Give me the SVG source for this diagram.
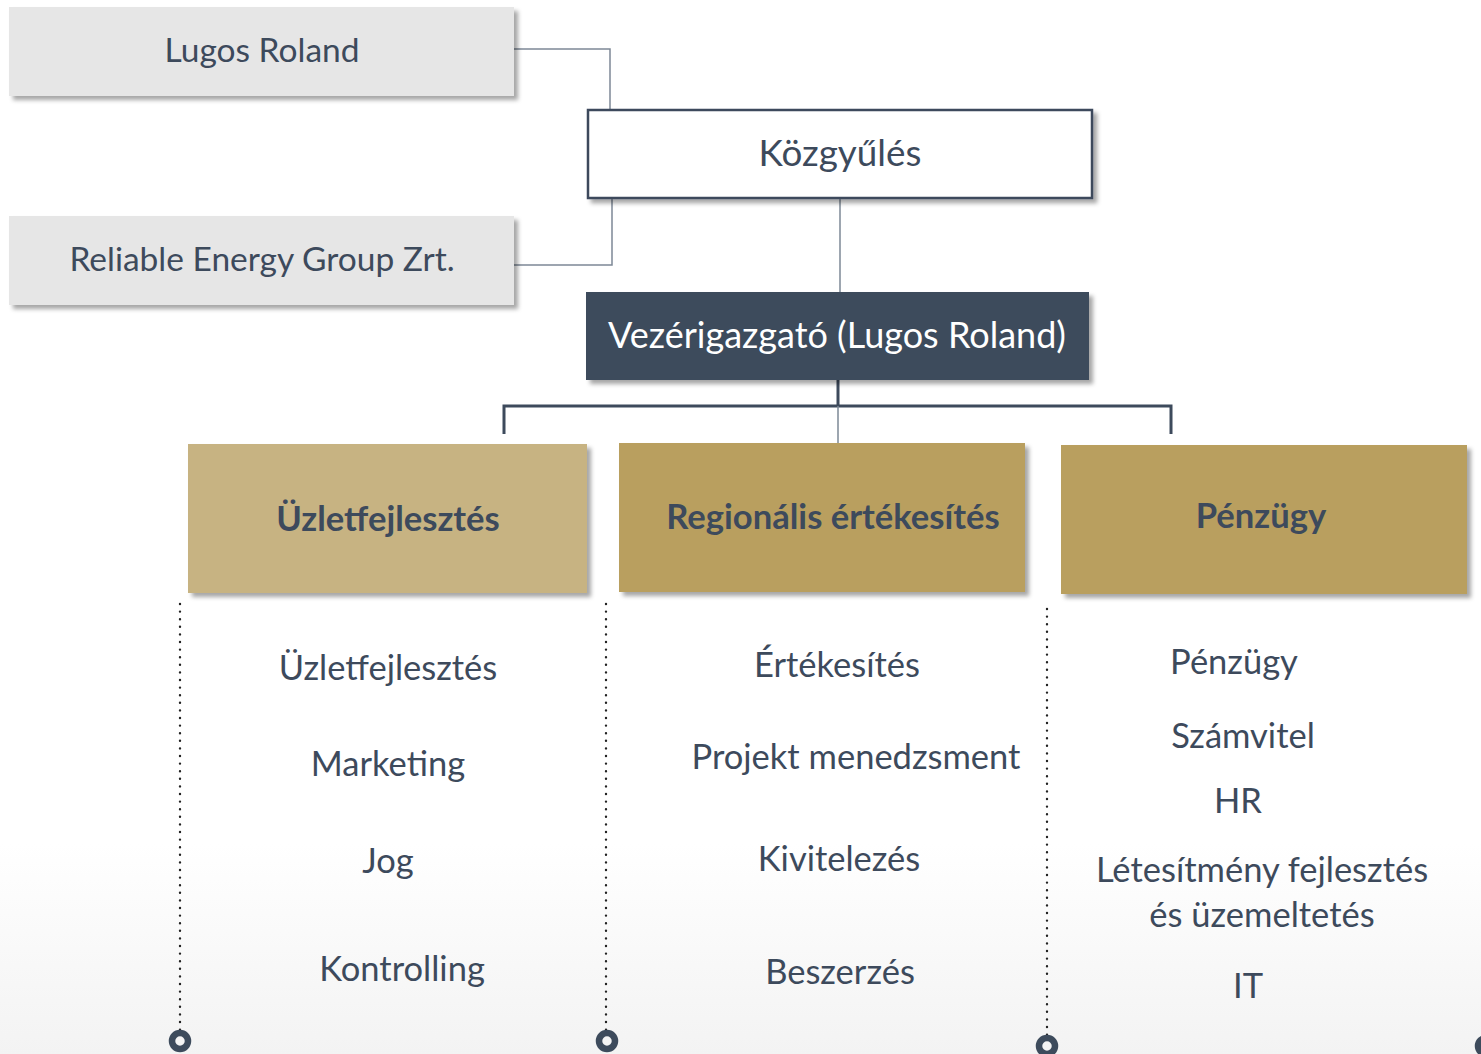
<svg xmlns="http://www.w3.org/2000/svg" width="1481" height="1054" viewBox="0 0 1481 1054">
<defs>
<linearGradient id="bg" x1="0" y1="0" x2="0" y2="1">
<stop offset="0" stop-color="#ffffff"/>
<stop offset="0.8" stop-color="#ffffff"/>
<stop offset="1" stop-color="#f3f3f3"/>
</linearGradient>
<filter id="sh" x="-5%" y="-10%" width="115%" height="130%">
<feDropShadow dx="4" dy="4" stdDeviation="2" flood-color="#000" flood-opacity="0.35"/>
</filter>
</defs>
<style>
text{font-family:"Lato","Open Sans","Liberation Sans",sans-serif;fill:#3d4a5c;text-anchor:middle}
.hdr{font-size:33.5px}
.dir{font-size:36px;fill:#ffffff}
.dept{font-size:34.6px;font-weight:bold}
.item{font-size:34.5px}
.gray{fill:#e6e6e6}
.thin{stroke:#7d8896;stroke-width:1.5;fill:none}
.thick{stroke:#3d4a5c;stroke-width:3;fill:none}
.dot{stroke:#222;stroke-width:2.4;stroke-dasharray:0 7.6;stroke-linecap:round;fill:none}
.ring{fill:none;stroke:#3d4b5c;stroke-width:6.5}
</style>
<rect width="1481" height="1054" fill="url(#bg)"/>

<g id="connectors">
<polyline class="thin" points="514,49 610,49 610,110"/>
<polyline class="thin" points="514,265 612,265 612,198"/>
<line class="thin" x1="840" y1="198" x2="840" y2="292"/>
<line class="thick" x1="838" y1="380" x2="838" y2="406"/>
<polyline class="thick" points="504,434 504,406 1171,406 1171,434"/>
<line class="thin" x1="838" y1="406" x2="838" y2="443"/>
<line class="dot" x1="180" y1="604" x2="180" y2="1030"/>
<line class="dot" x1="606" y1="604" x2="606" y2="1030"/>
<line class="dot" x1="1047" y1="609" x2="1047" y2="1035"/>
<circle class="ring" cx="180" cy="1041" r="8"/>
<circle class="ring" cx="607" cy="1041" r="8"/>
<circle class="ring" cx="1047" cy="1046" r="8"/>
<circle class="ring" cx="1486" cy="1046" r="8"/>
</g>

<g id="lugos">
<rect class="gray" x="9" y="7" width="505" height="89" filter="url(#sh)"/>
<text class="hdr" x="262" y="62">Lugos Roland</text>
</g>
<g id="reliable">
<rect class="gray" x="9" y="216" width="505" height="89" filter="url(#sh)"/>
<text class="hdr" x="262" y="271">Reliable Energy Group Zrt.</text>
</g>
<g id="kozgyules">
<rect x="588" y="110" width="504" height="88" fill="#ffffff" stroke="#3d4a5c" stroke-width="2.5" filter="url(#sh)"/>
<text class="hdr" x="840" y="166" style="font-size:36.8px">Közgyűlés</text>
</g>
<g id="vezer">
<rect x="586" y="292" width="503" height="88" fill="#3d4b5c" filter="url(#sh)"/>
<text class="dir" x="837" y="348">Vezérigazgató (Lugos Roland)</text>
</g>

<g id="dept1">
<rect x="188" y="444" width="399" height="149" fill="#c7b382" filter="url(#sh)"/>
<text class="dept" x="388" y="531">Üzletfejlesztés</text>
</g>
<g id="dept2">
<rect x="619" y="443" width="406" height="149" fill="#b99f5f" filter="url(#sh)"/>
<text class="dept" x="833" y="529">Regionális értékesítés</text>
</g>
<g id="dept3">
<rect x="1061" y="445" width="406" height="149" fill="#b99f5f" filter="url(#sh)"/>
<text class="dept" x="1261" y="528">Pénzügy</text>
</g>

<g id="items1">
<text class="item" x="388" y="680">Üzletfejlesztés</text>
<text class="item" x="388" y="776">Marketing</text>
<text class="item" x="388" y="873">Jog</text>
<text class="item" x="402" y="981">Kontrolling</text>
</g>
<g id="items2">
<text class="item" x="837" y="677">Értékesítés</text>
<text class="item" x="856" y="769">Projekt menedzsment</text>
<text class="item" x="839" y="871">Kivitelezés</text>
<text class="item" x="840" y="984">Beszerzés</text>
</g>
<g id="items3">
<text class="item" x="1234" y="674">Pénzügy</text>
<text class="item" x="1243" y="748">Számvitel</text>
<text class="item" x="1238" y="813">HR</text>
<text class="item" x="1262" y="882">Létesítmény fejlesztés</text>
<text class="item" x="1262" y="927">és üzemeltetés</text>
<text class="item" x="1248" y="998">IT</text>
</g>
</svg>
